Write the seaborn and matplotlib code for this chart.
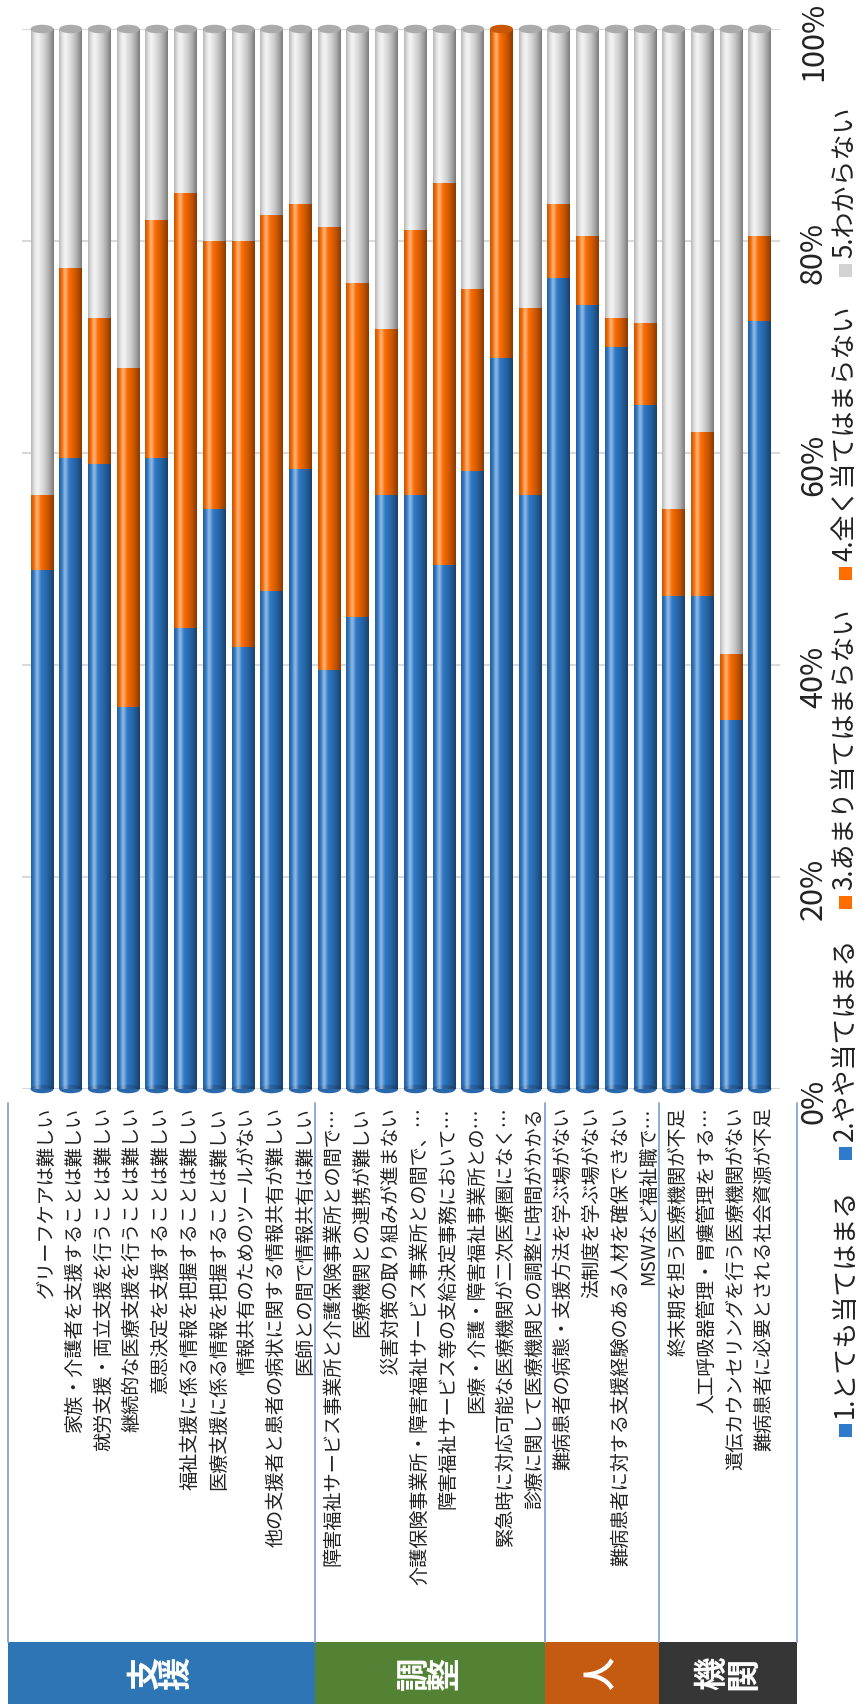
import numpy as np
import pandas as pd
import matplotlib
matplotlib.use("Agg")
import matplotlib.pyplot as plt
import matplotlib.transforms as mtransforms
from matplotlib.patches import Rectangle, Ellipse
from matplotlib.lines import Line2D
import seaborn as sns

# ---- survey items (in display order) ----
categories = [
    "グリーフケアは難しい",
    "家族・介護者を支援することは難しい",
    "就労支援・両立支援を行うことは難しい",
    "継続的な医療支援を行うことは難しい",
    "意思決定を支援することは難しい",
    "福祉支援に係る情報を把握することは難しい",
    "医療支援に係る情報を把握することは難しい",
    "情報共有のためのツールがない",
    "他の支援者と患者の病状に関する情報共有が難しい",
    "医師との間で情報共有は難しい",
    "障害福祉サービス事業所と介護保険事業所との間で…",
    "医療機関との連携が難しい",
    "災害対策の取り組みが進まない",
    "介護保険事業所・障害福祉サービス事業所との間で、…",
    "障害福祉サービス等の支給決定事務において…",
    "医療・介護・障害福祉事業所との…",
    "緊急時に対応可能な医療機関が二次医療圏になく…",
    "診療に関して医療機関との調整に時間がかかる",
    "難病患者の病態・支援方法を学ぶ場がない",
    "法制度を学ぶ場がない",
    "難病患者に対する支援経験のある人材を確保できない",
    "MSWなど福祉職で…",
    "終末期を担う医療機関が不足",
    "人工呼吸器管理・胃瘻管理をする…",
    "遺伝カウンセリングを行う医療機関がない",
    "難病患者に必要とされる社会資源が不足",
]

groups = ["支援", "調整", "人", "機関"]
group_sizes = [10, 8, 4, 4]
group_colors = ["#2E75B6", "#548235", "#C55A11", "#363636"]

legend_labels = ["1.とても当てはまる", "2.やや当てはまる", "3.あまり当てはまらない",
                 "4.全く当てはまらない", "5.わからない"]

# answer shares in %; answers 1 and 2 share one colour, as do 3 and 4
share_agree = [49.0, 59.5, 59.0, 36.0, 59.5, 43.5, 54.7, 41.7, 47.0, 58.5,
               39.5, 44.5, 56.0, 56.0, 49.4, 58.3, 69.0, 56.0,
               76.5, 74.0, 70.0, 64.5,
               46.5, 46.5, 34.8, 72.5]          # 1 + 2
share_disagree = [7.0, 18.0, 13.7, 32.0, 22.5, 41.0, 25.3, 38.3, 35.5, 25.0,
                  41.8, 31.5, 15.7, 25.0, 36.1, 17.2, 31.0, 17.7,
                  7.0, 6.5, 2.7, 7.8,
                  8.2, 15.5, 6.2, 8.0]          # 3 + 4
share_unknown = [44.0, 22.5, 27.3, 32.0, 18.0, 15.5, 20.0, 20.0, 17.5, 16.5,
                 18.7, 24.0, 28.3, 19.0, 14.5, 24.5, 0.0, 26.3,
                 16.5, 19.5, 27.3, 27.7,
                 45.3, 38.0, 59.0, 19.5]        # 5

BLUE, ORANGE, GRAY = "#2F7BCB", "#FF6D00", "#E8E8E8"
legend_colors = [BLUE, BLUE, ORANGE, ORANGE, "#D2D2D2"]
TEXT = "#222222"

sns.set_theme(style="white")
plt.rcParams["font.family"] = ["Noto Sans CJK JP", "DejaVu Sans"]

W, H = 860, 1704
fig = plt.figure(figsize=(W / 100, H / 100), dpi=100)
fig.patch.set_facecolor("white")
ax = fig.add_axes([22 / W, 1 - 1089 / H, 758 / W, 1060 / H])

df = pd.DataFrame({"item": categories, "agree": share_agree,
                   "disagree": share_disagree, "unknown": share_unknown})
df["top_agree"] = df["agree"]
df["top_disagree"] = df["agree"] + df["disagree"]
df["top_all"] = df["top_disagree"] + df["unknown"]

# stacked columns: draw the cumulative totals from the back to the front
for col, color in [("top_all", GRAY), ("top_disagree", ORANGE), ("top_agree", BLUE)]:
    sns.barplot(data=df, x="item", y=col, color=color, saturation=1, width=0.8,
                errorbar=None, ax=ax, edgecolor="none", linewidth=0, zorder=2)

n = len(categories)

# cylinder shading across each column
u = np.linspace(0, 1, 120)
dark = np.where(u < 0.3, 0.22 * ((0.3 - u) / 0.3) ** 2, 0.48 * ((u - 0.3) / 0.7) ** 1.7)
light = 0.45 * np.exp(-((u - 0.27) / 0.11) ** 2)
shade_dark = np.zeros((1, u.size, 4))
shade_dark[..., 3] = dark
shade_light = np.ones((1, u.size, 4))
shade_light[..., 3] = light

cap_of = {"gray": "#ABABAB", "orange": "#C95600"}
for i, p in enumerate(ax.patches[:n]):
    x0, w, h = p.get_x(), p.get_width(), p.get_height()
    for img in (shade_dark, shade_light):
        ax.imshow(img, extent=(x0, x0 + w, 0, h), aspect="auto",
                  interpolation="bilinear", zorder=3)
    cap = cap_of["gray"] if df["unknown"].iloc[i] > 0 else cap_of["orange"]
    ax.add_patch(Ellipse((x0 + w / 2, h), w, 0.8, facecolor=cap,
                         edgecolor="none", zorder=4, clip_on=False))
    ax.add_patch(Ellipse((x0 + w / 2, 0), w, 0.8, facecolor="#2A68AC",
                         edgecolor="none", zorder=2.5, clip_on=False))

ax.set_xlim(-0.7, n - 0.3)
ax.set_ylim(0, 100)
ax.set_xlabel("")
ax.set_ylabel("")
for s in ax.spines.values():
    s.set_visible(False)
ax.grid(axis="y", color="#D9D9D9", linewidth=1.5, zorder=0)
ax.grid(axis="x", visible=False)
ax.set_axisbelow(True)

# category labels under the columns
ax.set_xticks(range(n))
ax.set_xticklabels(categories, rotation=90, ha="center", va="top",
                   fontsize=13.8, color=TEXT)
ax.tick_params(axis="x", length=0, pad=13)
xshift = mtransforms.ScaledTranslation(4 / 100, 0, fig.dpi_scale_trans)
for lbl in ax.get_xticklabels():
    lbl.set_transform(lbl.get_transform() + xshift)

# percentage scale on the right
ax.yaxis.tick_right()
ticks = list(range(0, 101, 20))
ax.set_yticks(ticks)
ax.set_yticklabels([f"{t}%" for t in ticks], rotation=90, va="center", ha="left",
                   fontsize=22, color=TEXT)
ax.tick_params(axis="y", length=0, pad=13)
yshift = mtransforms.ScaledTranslation(0, -12 / 100, fig.dpi_scale_trans)
for lbl in ax.get_yticklabels():
    lbl.set_transform(lbl.get_transform() + yshift)

# group frames and coloured group headers
trans = mtransforms.blended_transform_factory(ax.transData, fig.transFigure)
bounds = np.cumsum([0] + group_sizes).astype(float) - 0.5
bounds[0] = -1.2
bounds[-1] = n + 0.3
line_top, box_top, box_mid = 1 - 1103 / H, 1 - 1642 / H, 1 - 1673 / H
for xb in bounds:
    fig.add_artist(Line2D([xb, xb], [line_top, box_top], transform=trans,
                          color="#8EA9DB", linewidth=1.4))
for k, name in enumerate(groups):
    x0, x1 = bounds[k], bounds[k + 1]
    fig.add_artist(Rectangle((x0, 0), x1 - x0, box_top, transform=trans,
                             facecolor=group_colors[k], edgecolor="none"))
    fig.text((x0 + x1) / 2, box_mid, "\n".join(name), transform=trans,
             rotation=90, ha="center", va="center", color="white",
             fontsize=24, fontweight="bold", linespacing=0.95)

# legend, laid out along the right edge and read bottom-to-top
renderer = fig.canvas.get_renderer()
sq = 13.0
cur = 1430.0 + sq / 2   # pixel row (from the top) of the first swatch's lower edge
lx = 845.0
for label, color in zip(legend_labels, legend_colors):
    fig.add_artist(Rectangle(((lx - sq / 2) / W, 1 - cur / H), sq / W, sq / H,
                             transform=fig.transFigure, facecolor=color,
                             edgecolor="none"))
    t = fig.text(lx / W, 1 - (cur - sq - 6) / H, label, rotation=90,
                 ha="center", va="bottom", fontsize=18.7, color=TEXT)
    bb = t.get_window_extent(renderer)
    cur = (H - bb.y1) - 28.5

fig.savefig("out.png", dpi=100, facecolor="white")
